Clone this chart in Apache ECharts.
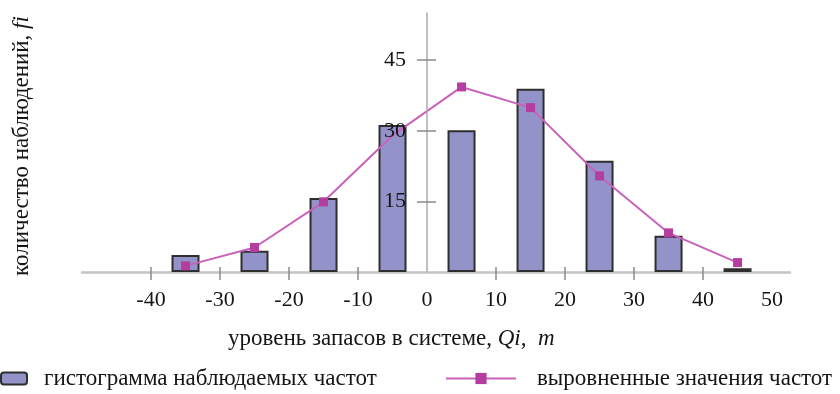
<!DOCTYPE html>
<html>
<head>
<meta charset="utf-8">
<script src="https://cdn.jsdelivr.net/npm/echarts@6/dist/echarts.min.js"></script>
<style>html,body{margin:0;padding:0;background:#fff}#c{width:840px;height:394px}</style>
</head>
<body>
<div id="c"></div>
<script>
// Data
var binCenters = [-35, -25, -15, -5, 5, 15, 25, 35, 45];
var observedFreq = [3.6, 4.5, 15.7, 31.2, 30.1, 38.9, 23.6, 7.7, 0.8];
var smoothedFreq = [1.3, 5.2, 14.9, 29.0, 39.3, 34.9, 20.4, 8.3, 2.0];
var xTickLabels = [-40, -30, -20, -10, 0, 10, 20, 30, 40, 50];
var xTickMarks = [-40, -30, -20, -10, 10, 20, 30, 40];
var yTickLabels = [15, 30, 45];
var barName = 'гистограмма наблюдаемых частот';
var lineName = 'выровненные значения частот';
var xAxisTitle = 'уровень запасов в системе, ';
var yAxisTitle = 'количество наблюдений, ';

var FONT = '"Liberation Serif", "DejaVu Serif", serif';
var TXT = '#151515';
var chart = echarts.init(document.getElementById('c'), null, {renderer: 'canvas'});

var barData = binCenters.map(function (x, i) { return [x, observedFreq[i]]; });
var lineData = binCenters.map(function (x, i) {
  var d = {value: [x, smoothedFreq[i]]};
  if (x === -5) d.symbol = 'none';
  return d;
});

// grid: left 82, right 50 -> width 708 ; x=0 lies 345 px from the left edge
var yOffsetLeft = -345, yOffsetRight = -363;

var option = {
  animation: false,
  grid: {left: 82, right: 50, top: 13, bottom: 122},
  xAxis: [{
    type: 'value', min: -50, max: 52.6, position: 'bottom',
    axisLine: {onZero: false, lineStyle: {color: '#c4c4c4', width: 2.5}},
    axisTick: {show: true, length: 8, customValues: xTickMarks, lineStyle: {color: '#8a8a8a', width: 1.5}},
    axisLabel: {customValues: xTickLabels, margin: 17, fontFamily: FONT, fontSize: 22, color: TXT},
    splitLine: {show: false}
  }, {
    type: 'value', min: -50, max: 52.6, position: 'top', offset: -259,
    axisLine: {show: false, onZero: false},
    axisTick: {show: true, length: 5, customValues: xTickMarks, lineStyle: {color: '#8a8a8a', width: 1.5}},
    axisLabel: {show: false},
    splitLine: {show: false}
  }],
  yAxis: [{
    type: 'value', min: 0, max: 55, position: 'left', offset: yOffsetLeft, z: 10,
    axisLine: {show: true, onZero: false, lineStyle: {color: '#ababab', width: 1.5}},
    axisTick: {show: true, length: 10, customValues: yTickLabels, lineStyle: {color: '#8a8a8a', width: 1.5}},
    axisLabel: {customValues: yTickLabels, margin: 21, fontFamily: FONT, fontSize: 22, color: TXT},
    splitLine: {show: false}
  }, {
    type: 'value', min: 0, max: 55, position: 'right', offset: yOffsetRight, z: 10,
    axisLine: {show: false, onZero: false},
    axisTick: {show: true, length: 9, customValues: yTickLabels, lineStyle: {color: '#8a8a8a', width: 1.5}},
    axisLabel: {show: false},
    splitLine: {show: false}
  }],
  legend: [{
    data: [barName], left: 0, top: 367, padding: 0, itemWidth: 26, itemHeight: 12,
    formatter: '{g|}{t|' + barName + '}',
    textStyle: {rich: {g: {width: 12}, t: {fontFamily: FONT, fontSize: 23, color: TXT}}}
  }, {
    data: [lineName], left: 445, top: 367, padding: 0, itemWidth: 70, itemHeight: 14,
    formatter: '{g|}{t|' + lineName + '}',
    textStyle: {rich: {g: {width: 16}, t: {fontFamily: FONT, fontSize: 23, color: TXT}}}
  }],
  graphic: [{
    type: 'text', left: 228, top: 327,
    style: {
      text: '{a|' + xAxisTitle + '}{b|Qi,  m}',
      rich: {
        a: {fontFamily: FONT, fontSize: 23, fill: TXT},
        b: {fontFamily: FONT, fontSize: 23, fontStyle: 'italic', fill: TXT}
      }
    }
  }, {
    type: 'text', x: 22, y: 146, rotation: Math.PI / 2,
    style: {
      text: '{a|' + yAxisTitle + '}{b|fi}',
      align: 'center', verticalAlign: 'middle',
      rich: {
        a: {fontFamily: FONT, fontSize: 23, fill: TXT},
        b: {fontFamily: FONT, fontSize: 23, fontStyle: 'italic', fill: TXT}
      }
    }
  }],
  series: [{
    name: barName, type: 'bar', data: barData, barWidth: 28,
    itemStyle: {color: '#9393c9', borderColor: '#2e2e2e', borderWidth: 2}
  }, {
    name: lineName, type: 'line', data: lineData,
    symbol: 'rect', symbolSize: 9,
    lineStyle: {color: '#c862bb', width: 2},
    itemStyle: {color: '#b53d9f'}
  }]
};
chart.setOption(option);
</script>
</body>
</html>
